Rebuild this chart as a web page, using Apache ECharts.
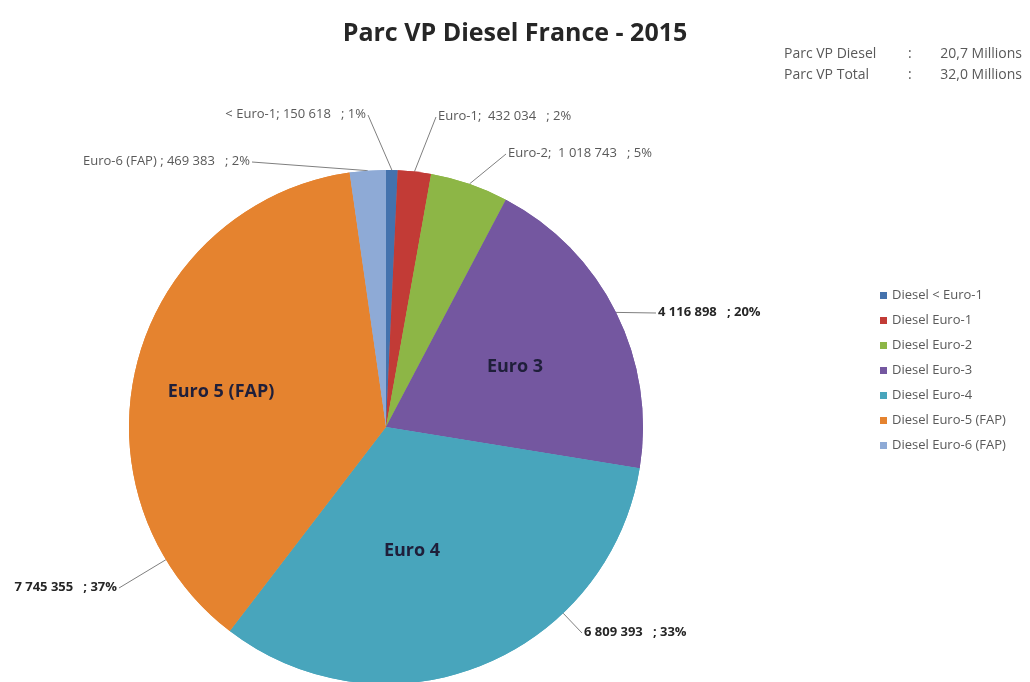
<!DOCTYPE html>
<html>
<head>
<meta charset="utf-8">
<script src="https://cdn.jsdelivr.net/npm/echarts@6/dist/echarts.min.js"></script>
<style>
  html, body { margin: 0; padding: 0; background: #fff; }
  #main { width: 1030px; height: 682px; }
</style>
</head>
<body>
<div id="main"></div>
<script>
// parc VP diesel France 2015, par norme Euro
var categories = ['Diesel < Euro-1', 'Diesel Euro-1', 'Diesel Euro-2', 'Diesel Euro-3', 'Diesel Euro-4', 'Diesel Euro-5 (FAP)', 'Diesel Euro-6 (FAP)'];
var vehicles = [150618, 432034, 1018743, 4116898, 6809393, 7745355, 469383];
var labelPrefix = ['< Euro-1; ', 'Euro-1;  ', 'Euro-2;  ', '', '', '', 'Euro-6 (FAP) ; '];
var innerNames = ['', '', '', 'Euro 3', 'Euro 4', 'Euro 5 (FAP)', ''];
var colors = ['#4472ad', '#c23b36', '#8db646', '#7457a0', '#48a5bc', '#e5832f', '#8eaad6'];

var total = vehicles.reduce(function (a, b) { return a + b; }, 0);
var CX = 386, CY = 427, R = 257;

function fmt(n) {
  return String(n).replace(/\B(?=(\d{3})+(?!\d))/g, ' ');
}

// angles des parts (degrés, sens horaire depuis midi)
var sliceStart = [], sliceEnd = [];
var cum = 0;
for (var k = 0; k < vehicles.length; k++) {
  sliceStart.push(cum / total * 360);
  cum += vehicles[k];
  sliceEnd.push(cum / total * 360);
}

// placement des étiquettes (comme dans l'original Excel)
var outerPos = [
  { x: 366, y: 114, align: 'right' },
  { x: 438, y: 116, align: 'left' },
  { x: 508, y: 153, align: 'left' },
  { x: 658, y: 312, align: 'left' },
  { x: 584, y: 632, align: 'left' },
  { x: 117, y: 587, align: 'right' },
  { x: 250, y: 161, align: 'right' }
];
var innerPos = [null, null, null, [515, 367], [412, 551], [221, 392], null];

function edgePoint(deg) {
  var a = deg * Math.PI / 180;
  return [CX + R * Math.sin(a), CY - R * Math.cos(a)];
}

var pieData = [];
var innerData = [];
for (var i = 0; i < categories.length; i++) {
  var big = i >= 3 && i <= 5;
  pieData.push({
    name: categories[i],
    value: vehicles[i],
    itemStyle: { color: colors[i] },
    label: big ? { fontWeight: 'bold', color: '#262626' } : {}
  });
  innerData.push({ name: categories[i], value: vehicles[i], itemStyle: { color: colors[i] } });
}

var txt = function (left, top, s, right) {
  var o = { type: 'text', top: top, style: { text: s, font: '14px "Open Sans"', fill: '#595959' } };
  if (right != null) o.right = right; else o.left = left;
  return o;
};

var chart = echarts.init(document.getElementById('main'));
chart.setOption({
  animation: false,
  title: {
    text: 'Parc VP Diesel France - 2015',
    left: 'center',
    top: 16,
    textStyle: { fontFamily: 'Open Sans', fontSize: 25, fontWeight: 'bold', color: '#262626' }
  },
  legend: {
    orient: 'vertical',
    left: 875,
    top: 283,
    icon: 'rect',
    itemWidth: 7,
    itemHeight: 7,
    itemGap: 10,
    textStyle: { fontFamily: 'Open Sans', fontSize: 13, color: '#595959', lineHeight: 15 },
    data: categories
  },
  graphic: [
    txt(784, 47, 'Parc VP Diesel'),
    txt(908, 47, ':'),
    txt(null, 47, '20,7 Millions', 8),
    txt(784, 68, 'Parc VP Total'),
    txt(908, 68, ':'),
    txt(null, 68, '32,0 Millions', 8)
  ],
  series: [{
    type: 'pie',
    center: [CX, CY],
    radius: R,
    startAngle: 90,
    clockwise: true,
    data: pieData,
    label: {
      show: true,
      position: 'outside',
      overflow: 'none',
      fontFamily: 'Open Sans',
      fontSize: 13,
      color: '#595959',
      formatter: function (p) {
        var i = p.dataIndex;
        return labelPrefix[i] + fmt(vehicles[i]) + '   ; ' + Math.round(vehicles[i] / total * 100) + '%';
      }
    },
    labelLine: { show: true, length: 20, length2: 20, lineStyle: { color: '#7f7f7f', width: 1 } },
    labelLayout: function (params) {
      var i = params.dataIndex;
      var p = outerPos[i];
      var end = [p.align === 'right' ? p.x + 2 : p.x - 2, p.y + 1];
      // point de départ du trait sur le bord du camembert
      var deg = (sliceStart[i] + sliceEnd[i]) / 2;
      if (sliceEnd[i] - sliceStart[i] > 100) {
        var dir = Math.atan2(end[0] - CX, CY - end[1]) * 180 / Math.PI;
        if (dir < 0) dir += 360;
        deg = Math.min(Math.max(dir, sliceStart[i]), sliceEnd[i]);
      }
      return {
        x: p.x, y: p.y, align: p.align, verticalAlign: 'middle', hideOverlap: false,
        labelLinePoints: [edgePoint(deg), end, end]
      };
    },
    emphasis: { disabled: true }
  }, {
    type: 'pie',
    center: [CX, CY],
    radius: R,
    startAngle: 90,
    clockwise: true,
    data: innerData,
    silent: true,
    label: {
      show: true,
      position: 'inside',
      fontFamily: 'Open Sans',
      fontSize: 18,
      fontWeight: 'bold',
      color: '#1f1f3a',
      formatter: function (p) { return innerNames[p.dataIndex]; }
    },
    labelLine: { show: false },
    labelLayout: function (params) {
      var p = innerPos[params.dataIndex];
      if (!p) return {};
      return { x: p[0], y: p[1], align: 'center', verticalAlign: 'middle' };
    },
    emphasis: { disabled: true }
  }]
});
</script>
</body>
</html>
